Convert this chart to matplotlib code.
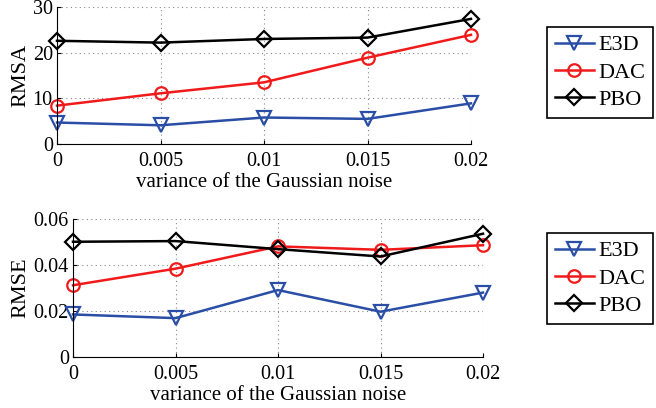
import matplotlib
matplotlib.use('Agg')
import matplotlib.pyplot as plt

noise = [0, 0.005, 0.01, 0.015, 0.02]
xtick_labels = ['0', '0.005', '0.01', '0.015', '0.02']

rmsa_e3d = [4.7, 4.1, 5.8, 5.5, 8.9]
rmsa_dac = [8.4, 11.1, 13.5, 18.9, 23.9]
rmsa_pbo = [22.6, 22.2, 23.0, 23.3, 27.4]

rmse_e3d = [0.0185, 0.0169, 0.0291, 0.0197, 0.0280]
rmse_dac = [0.0312, 0.0384, 0.0481, 0.0466, 0.0486]
rmse_pbo = [0.0501, 0.0504, 0.0469, 0.0437, 0.0536]

plt.rcParams['font.family'] = ['Liberation Serif', 'DejaVu Serif']
plt.rcParams['font.size'] = 13

fig = plt.figure(figsize=(6.56, 4.08), dpi=100)
W, H = 656, 408


def panel(box, e3d, dac, pbo, ylim, yticks, yticklabels, ylabel, legpos):
    l, t, r, b = box
    ax = fig.add_axes([l / W, 1 - b / H, (r - l) / W, (b - t) / H])
    ax.plot(noise, e3d, color='#2a4ea6', marker='v', markersize=10, markerfacecolor='none',
            markeredgewidth=1.6, linewidth=1.8, label='E3D', clip_on=False)
    ax.plot(noise, dac, color='#f01a1a', marker='o', markersize=9, markerfacecolor='none',
            markeredgewidth=1.6, linewidth=1.8, label='DAC', clip_on=False)
    ax.plot(noise, pbo, color='black', marker='D', markersize=8, markerfacecolor='none',
            markeredgewidth=1.6, linewidth=1.8, label='PBO', clip_on=False)
    ax.set_xlim(0, 0.02)
    ax.set_ylim(*ylim)
    ax.set_xticks(noise)
    ax.set_xticklabels(xtick_labels)
    ax.set_yticks(yticks)
    ax.set_yticklabels(yticklabels)
    ax.grid(True, linestyle=(0, (1, 3)), color='#888888', linewidth=0.8)
    ax.tick_params(direction='in', length=3, labelsize=14.5)
    ax.tick_params(axis='x', pad=6)
    ax.tick_params(axis='y', pad=3)
    for s in ['top', 'right']:
        ax.spines[s].set_visible(False)
    ax.set_xlabel('variance of the Gaussian noise', fontsize=15, labelpad=1)
    ax.set_ylabel(ylabel, fontsize=16, labelpad=2)
    leg = ax.legend(loc='upper left', bbox_to_anchor=(legpos[0] / W, 1 - legpos[1] / H),
                    bbox_transform=fig.transFigure, fontsize=16,
                    fancybox=False, edgecolor='black', framealpha=1, handlelength=1.75,
                    handletextpad=0.2, labelspacing=0.3, borderpad=0.35, borderaxespad=0)
    leg.get_frame().set_linewidth(1.2)
    return ax


panel((57, 7, 471, 144), rmsa_e3d, rmsa_dac, rmsa_pbo, (0, 30),
      [0, 10, 20, 30], ['0', '10', '20', '30'], 'RMSA', (547, 27))
panel((73, 219, 483, 357), rmse_e3d, rmse_dac, rmse_pbo, (0, 0.06),
      [0, 0.02, 0.04, 0.06], ['0', '0.02', '0.04', '0.06'], 'RMSE', (547, 233))

fig.savefig('out.png', dpi=100)
